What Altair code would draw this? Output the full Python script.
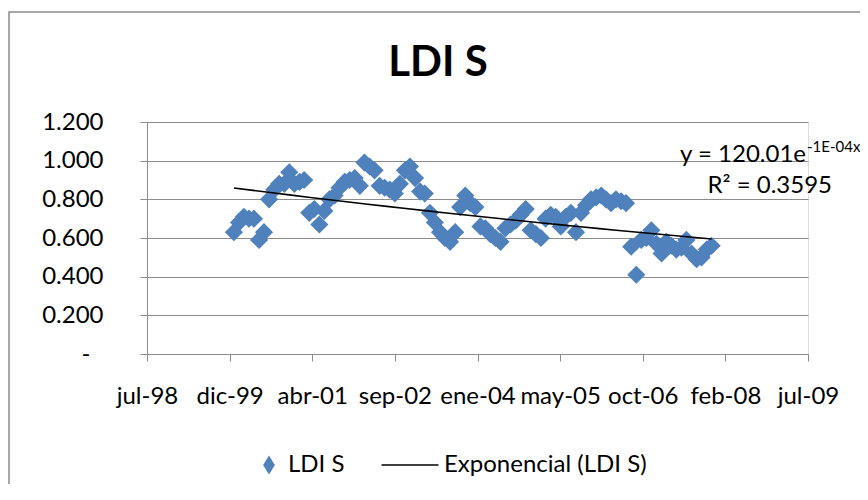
import altair as alt
import pandas as pd

# Monthly LDI S values, Jan 2000 - Dec 2007
start_month = "2000-01-01"
ldi_values = [
    0.63, 0.68, 0.71, 0.70, 0.70, 0.59, 0.63, 0.80, 0.85, 0.88, 0.88, 0.94,
    0.88, 0.89, 0.90, 0.73, 0.75, 0.67, 0.74, 0.80, 0.82, 0.86, 0.89, 0.90,
    0.91, 0.87, 0.99, 0.97, 0.95, 0.87, 0.86, 0.85, 0.83, 0.88, 0.95, 0.97,
    0.91, 0.84, 0.83, 0.73, 0.68, 0.63, 0.60, 0.58, 0.63, 0.76, 0.82, 0.78,
    0.76, 0.66, 0.65, 0.62, 0.60, 0.58, 0.65, 0.67, 0.69, 0.72, 0.75, 0.64,
    0.62, 0.60, 0.70, 0.72, 0.71, 0.66, 0.71, 0.73, 0.63, 0.73, 0.77, 0.80,
    0.81, 0.82, 0.80, 0.78, 0.80, 0.79, 0.78, 0.555, 0.41, 0.59, 0.60, 0.64,
    0.57, 0.52, 0.58, 0.56, 0.54, 0.55, 0.59, 0.52, 0.49, 0.50, 0.54, 0.56,
]

x_tick_values = [36000, 36500, 37000, 37500, 38000, 38500, 39000, 39500, 40000]
x_tick_labels = ["jul-98", "dic-99", "abr-01", "sep-02", "ene-04", "may-05",
                 "oct-06", "feb-08", "jul-09"]
y_tick_values = [0, 0.2, 0.4, 0.6, 0.8, 1.0, 1.2]

series_names = ["LDI S", "Exponencial (LDI S)"]
chart_title = "LDI S"
equation_main = "y = 120.01e"
equation_exp = "-1E-04x"
r2_text = "R² = 0.3595"

dates = pd.date_range(start_month, periods=len(ldi_values), freq="MS")
serial = [(d - pd.Timestamp("1899-12-30")).days for d in dates]
df = pd.DataFrame({"serial": serial, "ldi": ldi_values, "serie": series_names[0]})
one = pd.DataFrame({"k": [0]})

FONT = "Lato"
FS = 24
BLUE = "#4F81BD"
GRID = "#8c8c8c"

label_arr = "[" + ",".join(f"'{l}'" for l in x_tick_labels) + "]"

x_enc = alt.X(
    "serial:Q",
    scale=alt.Scale(domain=[x_tick_values[0], x_tick_values[-1]], nice=False, zero=False),
    axis=alt.Axis(values=x_tick_values, title=None, grid=False, labelOverlap=False,
                  labelFlush=False, labelBound=False,
                  labelExpr=f"{label_arr}[round((datum.value-36000)/500)]",
                  tickSize=7, labelPadding=23, labelFontSize=FS, labelFont=FONT,
                  labelColor="black", domainColor=GRID, tickColor=GRID),
)
y_enc = alt.Y(
    "ldi:Q",
    scale=alt.Scale(domain=[0, 1.2], nice=False, zero=True),
    axis=alt.Axis(values=y_tick_values, tickCount=7, title=None, grid=True, gridColor=GRID,
                  labelOverlap=False, labelFlush=False, labelBound=False,
                  labelExpr="datum.value == 0 ? '-' : format(datum.value, '.3f')",
                  labelPadding={"condition": {"test": "datum.value == 0", "value": 50},
                                "value": 37},
                  tickSize=7, labelFontSize=FS, labelFont=FONT,
                  labelColor="black", domainColor=GRID, tickColor=GRID),
)

color_scale = alt.Scale(domain=series_names, range=[BLUE, "black"])
shape_scale = alt.Scale(domain=series_names,
                        range=["M0,-1L0.62,0L0,1L-0.62,0Z",
                               "M-4.58,-0.07L1.42,-0.07L1.42,0.07L-4.58,0.07Z"])
legend = alt.Legend(title=None, orient="none", legendX=110, legendY=331,
                    direction="horizontal", labelFont=FONT, labelFontSize=FS,
                    labelColor="black", symbolSize=360, columnPadding=36,
                    labelOffset=7, symbolOpacity=1, labelLimit=400,
                    symbolStrokeWidth=0)

base = alt.Chart(df)

legend_layer = base.mark_point(filled=True, opacity=0).encode(
    x=x_enc, y=y_enc,
    color=alt.Color("serie:N", scale=color_scale, legend=legend),
    shape=alt.Shape("serie:N", scale=shape_scale, legend=legend),
)

points = base.mark_point(filled=True, opacity=1, size=330, shape="diamond").encode(
    x=x_enc, y=y_enc,
    color=alt.Color("serie:N", scale=color_scale, legend=legend),
)

trend = (
    base.transform_calculate(lny="log(datum.ldi)")
    .transform_regression("serial", "lny", method="poly", order=1)
    .transform_calculate(ldi="exp(datum.lny)", serie=f"'{series_names[1]}'")
    .mark_line(strokeWidth=1.6)
    .encode(x=x_enc, y=y_enc,
            color=alt.Color("serie:N", scale=color_scale, legend=legend))
)

border = alt.Chart(one).mark_rect(fill=None, stroke="#8c8c8c", strokeWidth=1.5).encode(
    x=alt.value(-138), x2=alt.value(730), y=alt.value(-110), y2=alt.value(390)
)

title = alt.Chart(one).mark_text(align="center", baseline="alphabetic", font=FONT,
                                 fontSize=42, fontWeight="bold", text=chart_title).encode(
    x=alt.value(291), y=alt.value(-46))
eq1 = alt.Chart(one).mark_text(align="right", baseline="alphabetic", font=FONT,
                               fontSize=FS, text=equation_main).encode(
    x=alt.value(659), y=alt.value(40))
eq2 = alt.Chart(one).mark_text(align="left", baseline="alphabetic", font=FONT,
                               fontSize=15, text=equation_exp).encode(
    x=alt.value(660), y=alt.value(30))
eq3 = alt.Chart(one).mark_text(align="right", baseline="alphabetic", font=FONT,
                               fontSize=FS, text=r2_text).encode(
    x=alt.value(685), y=alt.value(71))

chart = alt.layer(legend_layer, border, points, trend, title, eq1, eq2, eq3).properties(
    width=661, height=232,
    autosize=alt.AutoSizeParams(type="none"),
    padding={"left": 139, "top": 114, "right": 52, "bottom": 130},
).configure_view(stroke=None).configure(background="white")

chart.save("out.html", embed_options={"renderer": "svg", "actions": False})
